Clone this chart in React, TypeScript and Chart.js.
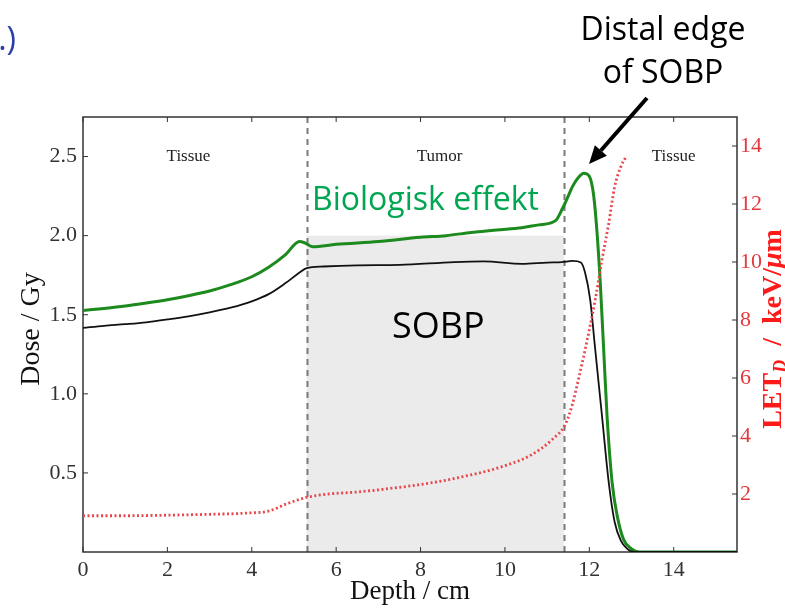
import React, { useEffect, useRef } from "react";
import { Chart, registerables } from "chart.js";

Chart.register(...registerables);

// ---- tick labels ----
const depthTicks = [0, 2, 4, 6, 8, 10, 12, 14];
const doseTicks = [0.5, 1.0, 1.5, 2.0, 2.5];
const letTicks = [2, 4, 6, 8, 10, 12, 14];

// ---- biological effect (green) ----
const bioDepth = [0, 0.5, 1, 1.5, 2, 2.5, 3, 3.5, 4, 4.4, 4.8, 5.13, 5.25, 5.44, 6, 7, 8, 8.6, 9.2, 9.8, 10.4, 10.8, 11.2, 11.36, 11.5, 11.6, 11.75, 11.87, 12.0, 12.1, 12.18, 12.26, 12.34, 12.42, 12.54, 12.66, 12.81, 13.0, 13.2, 15.5];
const bioDose = [1.527, 1.54, 1.555, 1.574, 1.595, 1.62, 1.65, 1.69, 1.74, 1.8, 1.88, 1.963, 1.955, 1.93, 1.945, 1.963, 1.99, 2.0, 2.02, 2.036, 2.05, 2.068, 2.095, 2.17, 2.25, 2.31, 2.37, 2.395, 2.375, 2.26, 2.03, 1.7, 1.28, 0.86, 0.44, 0.23, 0.08, 0.02, 0.0, 0.0];

// ---- physical dose (black) ----
const physDepth = [0, 0.5, 1, 1.5, 2, 2.5, 3, 3.5, 4, 4.4, 4.8, 5.1, 5.3, 5.7, 6.5, 7.5, 8.8, 9.5, 10.4, 11.0, 11.35, 11.6, 11.8, 11.9, 12.02, 12.14, 12.3, 12.46, 12.6, 12.75, 12.9, 13.05, 15.5];
const physDose = [1.417, 1.43, 1.44, 1.452, 1.47, 1.49, 1.515, 1.545, 1.585, 1.63, 1.7, 1.76, 1.795, 1.805, 1.812, 1.815, 1.833, 1.837, 1.822, 1.83, 1.833, 1.84, 1.83, 1.765, 1.595, 1.28, 0.86, 0.44, 0.19, 0.07, 0.02, 0.0, 0.0];

// ---- LET_D (red dotted) ----
const letDepth = [0, 1, 2, 3, 3.87, 4.42, 4.81, 5.29, 5.76, 6.5, 7.1, 8.28, 9.07, 9.86, 10.65, 11.12, 11.43, 11.6, 11.75, 11.9, 12.14, 12.3, 12.46, 12.6, 12.75, 12.88];
const letValue = [1.25, 1.25, 1.27, 1.3, 1.34, 1.42, 1.65, 1.88, 1.99, 2.07, 2.16, 2.39, 2.62, 2.91, 3.37, 3.88, 4.4, 5.1, 6.0, 6.97, 8.7, 10.07, 11.33, 12.59, 13.3, 13.65];

// ---- regions ----
const sobpBounds = [5.3, 11.4];
const sobpLevel = [2.0];
const regionNames = ["Tissue", "Tumor", "Tissue"];
const regionCenters = [2.5, 8.45, 14.0];
const regionLabelDose = [2.5];

const SERIF = "'Liberation Serif', 'DejaVu Serif', serif";
const SANS = "'Open Sans', 'Noto Sans', sans-serif";

const decor = {
  id: "decor",
  beforeDatasetsDraw(chart: any) {
    const { ctx, chartArea: a, scales } = chart;
    const x = scales.x;
    const y = scales.y;
    const x0 = x.getPixelForValue(sobpBounds[0]);
    const x1 = x.getPixelForValue(sobpBounds[1]);
    const yTop = y.getPixelForValue(sobpLevel[0]);
    const yBot = y.getPixelForValue(0);
    ctx.save();
    ctx.fillStyle = "#ebebeb";
    ctx.fillRect(x0, yTop, x1 - x0, yBot - yTop);
    // dashed boundaries
    ctx.strokeStyle = "#7a7a7a";
    ctx.lineWidth = 2;
    ctx.setLineDash([6, 5]);
    for (const b of sobpBounds) {
      const px = Math.round(x.getPixelForValue(b)) + 0.5;
      ctx.beginPath();
      ctx.moveTo(px, a.top);
      ctx.lineTo(px, a.bottom);
      ctx.stroke();
    }
    ctx.setLineDash([]);
    // frame
    ctx.strokeStyle = "#333";
    ctx.lineWidth = 1.5;
    ctx.strokeRect(a.left, a.top, a.right - a.left, a.bottom - a.top);
    // inward ticks
    ctx.lineWidth = 1;
    ctx.beginPath();
    for (const v of depthTicks) {
      const px = x.getPixelForValue(v);
      ctx.moveTo(px, a.bottom);
      ctx.lineTo(px, a.bottom - 5);
      ctx.moveTo(px, a.top);
      ctx.lineTo(px, a.top + 5);
    }
    for (const v of doseTicks) {
      const py = y.getPixelForValue(v);
      ctx.moveTo(a.left, py);
      ctx.lineTo(a.left + 5, py);
    }
    for (const v of letTicks) {
      const py = scales.y2.getPixelForValue(v);
      ctx.moveTo(a.right, py);
      ctx.lineTo(a.right - 5, py);
    }
    ctx.stroke();
    // region labels
    ctx.fillStyle = "#222";
    ctx.font = `17px ${SERIF}`;
    ctx.textAlign = "center";
    ctx.textBaseline = "middle";
    regionNames.forEach((n, i) => {
      ctx.fillText(n, x.getPixelForValue(regionCenters[i]), y.getPixelForValue(regionLabelDose[0]));
    });
    ctx.restore();
  },
  afterDraw(chart: any) {
    const { ctx, chartArea: a } = chart;
    ctx.save();
    // axis titles
    ctx.fillStyle = "#111";
    ctx.font = `27px ${SERIF}`;
    ctx.textAlign = "center";
    ctx.textBaseline = "alphabetic";
    ctx.fillText("Depth / cm", (a.left + a.right) / 2, 599);
    ctx.save();
    ctx.translate(39, 329);
    ctx.rotate(-Math.PI / 2);
    ctx.font = `28px ${SERIF}`;
    ctx.fillText("Dose / Gy", 0, 0);
    ctx.restore();

    // right title: LET_D / keV/μm
    ctx.save();
    ctx.translate(781, 329);
    ctx.rotate(-Math.PI / 2);
    ctx.fillStyle = "#ff1a1a";
    const parts: [string, string, number][] = [
      ["LET", `bold 28px ${SERIF}`, 0],
      ["D", `italic bold 18px ${SERIF}`, 5],
      ["  /  keV/", `bold 28px ${SERIF}`, 0],
      ["μ", `italic bold 28px ${SERIF}`, 0],
      ["m", `bold 28px ${SERIF}`, 0],
    ];
    let total = 0;
    for (const [t, f] of parts) {
      ctx.font = f;
      total += ctx.measureText(t).width;
    }
    let cx = -total / 2;
    ctx.textAlign = "left";
    for (const [t, f, dy] of parts) {
      ctx.font = f;
      ctx.fillText(t, cx, dy);
      cx += ctx.measureText(t).width;
    }
    ctx.restore();

    // slide annotations
    ctx.textAlign = "center";
    ctx.fillStyle = "#000";
    ctx.font = `32px ${SANS}`;
    ctx.fillText("Distal edge", 663, 40);
    ctx.fillText("of SOBP", 663, 83);

    ctx.textAlign = "left";
    ctx.fillStyle = "#00a651";
    ctx.fillText("Biologisk effekt", 312, 210);

    ctx.fillStyle = "#000";
    ctx.font = `36px ${SANS}`;
    ctx.fillText("SOBP", 392, 338);

    ctx.textAlign = "right";
    ctx.fillStyle = "#2b3fa8";
    ctx.font = `32px ${SANS}`;
    ctx.fillText("1.)", 16, 50);

    // arrow
    const sx = 647, sy = 98, tx = 589, ty = 164;
    const ang = Math.atan2(ty - sy, tx - sx);
    const hl = 18, hw = 8;
    const bx = tx - hl * Math.cos(ang), by = ty - hl * Math.sin(ang);
    ctx.strokeStyle = "#000";
    ctx.lineWidth = 4;
    ctx.beginPath();
    ctx.moveTo(sx, sy);
    ctx.lineTo(bx, by);
    ctx.stroke();
    ctx.fillStyle = "#000";
    ctx.beginPath();
    ctx.moveTo(tx, ty);
    ctx.lineTo(bx + hw * Math.sin(ang), by - hw * Math.cos(ang));
    ctx.lineTo(bx - hw * Math.sin(ang), by + hw * Math.cos(ang));
    ctx.closePath();
    ctx.fill();
    ctx.restore();
  },
};

export default function App() {
  const ref = useRef<HTMLCanvasElement | null>(null);
  useEffect(() => {
    document.body.style.margin = "0";
    document.body.style.overflow = "hidden";
    const canvas = ref.current;
    if (!canvas) return;
    const tickFont = { family: SERIF, size: 22 };
    const chart = new Chart(canvas, {
      type: "line",
      data: {
        datasets: [
          {
            label: "LET_D",
            data: letDepth.map((x, i) => ({ x, y: letValue[i] })),
            borderColor: "#e8474c",
            borderWidth: 2.8,
            borderDash: [2, 2.5],
            pointRadius: 0,
            yAxisID: "y2",
            cubicInterpolationMode: "monotone",
          },
          {
            label: "Dose",
            data: physDepth.map((x, i) => ({ x, y: physDose[i] })),
            borderColor: "#111",
            borderWidth: 1.8,
            pointRadius: 0,
            yAxisID: "y",
            cubicInterpolationMode: "monotone",
          },
          {
            label: "Biologisk effekt",
            data: bioDepth.map((x, i) => ({ x, y: bioDose[i] })),
            borderColor: "#1c8a1c",
            borderWidth: 3,
            pointRadius: 0,
            yAxisID: "y",
            cubicInterpolationMode: "monotone",
          },
        ],
      },
      options: {
        animation: false,
        responsive: false,
        layout: { padding: { top: 117, left: 0, right: 0, bottom: 0 } },
        plugins: { legend: { display: false }, tooltip: { enabled: false } },
        scales: {
          x: {
            type: "linear",
            min: 0,
            max: 15.5,
            afterBuildTicks: (s: any) => {
              s.ticks = depthTicks.map((v) => ({ value: v }));
            },
            afterFit: (s: any) => {
              s.height = 56;
            },
            grid: { display: false, drawTicks: false },
            border: { display: false },
            ticks: {
              font: tickFont,
              color: "#333",
              padding: 5,
              maxRotation: 0,
              autoSkip: false,
              callback: (v: any) => String(v),
            },
          },
          y: {
            type: "linear",
            position: "left",
            min: 0,
            max: 2.75,
            afterBuildTicks: (s: any) => {
              s.ticks = doseTicks.map((v) => ({ value: v }));
            },
            afterFit: (s: any) => {
              s.width = 83;
            },
            grid: { display: false, drawTicks: false },
            border: { display: false },
            ticks: {
              font: tickFont,
              color: "#333",
              padding: 6,
              autoSkip: false,
              callback: (v: any) => Number(v).toFixed(1),
            },
          },
          y2: {
            type: "linear",
            position: "right",
            min: 0,
            max: 15,
            afterBuildTicks: (s: any) => {
              s.ticks = letTicks.map((v) => ({ value: v }));
            },
            afterFit: (s: any) => {
              s.width = 48;
            },
            grid: { display: false, drawTicks: false },
            border: { display: false },
            ticks: {
              font: tickFont,
              color: "#e0393e",
              padding: 3,
              autoSkip: false,
              callback: (v: any) => String(v),
            },
          },
        },
      },
      plugins: [decor],
    } as any);
    return () => chart.destroy();
  }, []);
  return (
    <canvas
      ref={ref}
      width={785}
      height={608}
      style={{ display: "block", width: 785, height: 608 }}
    />
  );
}
